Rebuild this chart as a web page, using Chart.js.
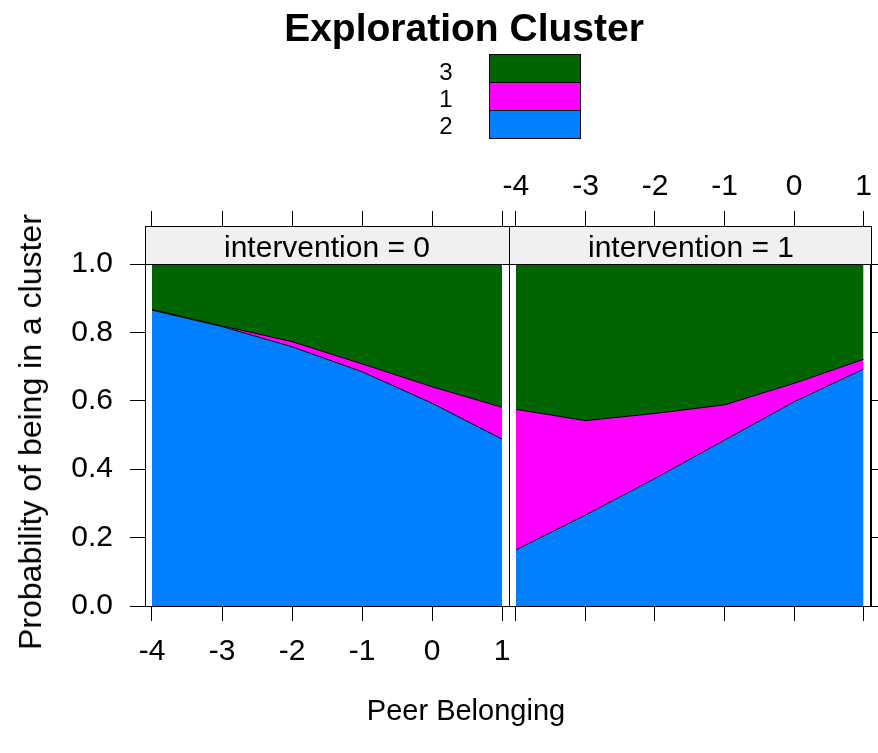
<!DOCTYPE html>
<html>
<head>
<meta charset="utf-8">
<script src="https://cdn.jsdelivr.net/npm/chart.js@4.4.1/dist/chart.umd.min.js"></script>
<style>
  html, body { margin: 0; padding: 0; background: #fff; }
  #wrap { position: relative; width: 878px; height: 753px; overflow: hidden;
          font-family: "Liberation Sans", Arial, sans-serif; color: #000; }
  #wrap canvas { position: absolute; left: 0; top: 0; }
  .t { position: absolute; white-space: nowrap; line-height: 1; transform: translate(-50%, -50%); }
  #legendBox { position: absolute; left: 489px; top: 54px; width: 90px; border: 1px solid #000; }
  #legendBox div { height: 27px; }
  #legendBox div + div { border-top: 1px solid #000; }
</style>
</head>
<body>
<div id="wrap">
  <canvas id="panel0" width="878" height="753"></canvas>
  <canvas id="panel1" width="878" height="753"></canvas>

  <div class="t" id="title" style="left:464px; top:27px; font-size:39px; font-weight:bold;"></div>
  <div class="t legendLabel" style="left:446px; top:72px; font-size:24px;"></div>
  <div class="t legendLabel" style="left:446px; top:99px; font-size:24px;"></div>
  <div class="t legendLabel" style="left:446px; top:126px; font-size:24px;"></div>
  <div id="legendBox"><div></div><div></div><div></div></div>

  <div class="t strip" style="left:327px; top:247px; font-size:30px;"></div>
  <div class="t strip" style="left:691px; top:247px; font-size:30px;"></div>

  <div class="t" id="xTitle" style="left:466px; top:710px; font-size:29px;"></div>
  <div class="t" id="yTitle" style="left:30px; top:432px; font-size:32px; transform: translate(-50%, -50%) rotate(-90deg);"></div>
</div>

<script>
// ---------------- data ----------------
const chartTitle = 'Exploration Cluster';
const xAxisTitle = 'Peer Belonging';
const yAxisTitle = 'Probability of being in a cluster';
const panelTitles = ['intervention = 0', 'intervention = 1'];
const legendLabels = ['3', '1', '2'];          // top to bottom in legend
const stackOrder = ['2', '1', '3'];            // bottom to top in the stack

const peerBelonging = [-4, -3, -2, -1, 0, 1];
const xTickValues = [-4, -3, -2, -1, 0, 1];
const yTickValues = [0, 0.2, 0.4, 0.6, 0.8, 1.0];

// intervention = 0
const int0Cluster2 = [0.865, 0.817, 0.758, 0.685, 0.593, 0.488];
const int0Cluster1 = [0.002, 0.002, 0.015, 0.023, 0.048, 0.093];
const int0Cluster3 = [0.133, 0.181, 0.227, 0.292, 0.359, 0.419];
// intervention = 1
const int1Cluster2 = [0.164, 0.266, 0.373, 0.485, 0.597, 0.693];
const int1Cluster1 = [0.411, 0.276, 0.190, 0.103, 0.054, 0.028];
const int1Cluster3 = [0.425, 0.458, 0.437, 0.412, 0.349, 0.279];

// ---------------- styles ----------------
const clusterColors = { '2': '#0080FF', '1': '#FF00FF', '3': '#006400' };
const FONT = "'Liberation Sans', Arial, sans-serif";
const TICK_FONT = { family: FONT, size: 30 };
const X_MIN = -4.1, X_MAX = 1.1;
const STRIP = 38 / 342;   // strip height expressed in y units above 1.0

// ---------------- text ----------------
document.getElementById('title').textContent = chartTitle;
document.getElementById('xTitle').textContent = xAxisTitle;
document.getElementById('yTitle').textContent = yAxisTitle;
document.querySelectorAll('.strip').forEach((el, i) => el.textContent = panelTitles[i]);
document.querySelectorAll('.legendLabel').forEach((el, i) => el.textContent = legendLabels[i]);
document.querySelectorAll('#legendBox div').forEach((el, i) => el.style.background = clusterColors[legendLabels[i]]);

// ---------------- chart ----------------
const stripPlugin = {
  id: 'stripFrame',
  afterDraw(chart) {
    const { ctx, chartArea: a, scales: { y } } = chart;
    const y1 = Math.round(y.getPixelForValue(1));
    const L = Math.round(a.left), R = Math.round(a.right), T = Math.round(a.top), B = Math.round(a.bottom);
    ctx.save();
    ctx.fillStyle = '#f0f0f0';
    ctx.fillRect(L, T, R - L, y1 - T);
    ctx.strokeStyle = '#000';
    ctx.lineWidth = 1;
    ctx.strokeRect(L + 0.5, T + 0.5, R - L, B - T);
    ctx.beginPath();
    ctx.moveTo(L, y1 + 0.5);
    ctx.lineTo(R + 1, y1 + 0.5);
    ctx.stroke();
    ctx.restore();
  }
};

function setTicks(values) {
  return scale => { scale.ticks = values.map(v => ({ value: v })); };
}

function makePanel(id, series, isLeft) {
  const datasets = stackOrder.map((name, i) => ({
    label: name,
    data: peerBelonging.map((x, k) => ({ x: x, y: series[i][k] })),
    backgroundColor: clusterColors[name],
    borderColor: '#000',
    borderWidth: 1,
    pointRadius: 0,
    tension: 0,
    fill: i === 0 ? 'origin' : '-1'
  }));
  const gridOpts = { drawOnChartArea: false, drawTicks: true, tickLength: 15, color: '#000', lineWidth: 1 };
  return new Chart(document.getElementById(id), {
    type: 'line',
    data: { datasets },
    options: {
      responsive: false,
      animation: false,
      events: [],
      layout: { autoPadding: false,
        padding: { left: isLeft ? 0 : 509, right: isLeft ? 369 : 0, top: 0, bottom: 0 } },
      plugins: { legend: { display: false }, tooltip: { enabled: false }, title: { display: false } },
      scales: {
        x: {
          type: 'linear', position: 'bottom', min: X_MIN, max: X_MAX,
          afterBuildTicks: setTicks(xTickValues),
          afterFit: s => { s.height = 147; },
          grid: gridOpts, border: { color: '#000', width: 1 },
          ticks: { display: isLeft, font: TICK_FONT, color: '#000', padding: 13,
                   maxRotation: 0, autoSkip: false, callback: v => String(v) }
        },
        xTop: {
          type: 'linear', position: 'top', min: X_MIN, max: X_MAX,
          afterBuildTicks: setTicks(xTickValues),
          afterFit: s => { s.height = 226; },
          grid: gridOpts, border: { color: '#000', width: 1 },
          ticks: { display: !isLeft, font: TICK_FONT, color: '#000', padding: 6,
                   maxRotation: 0, autoSkip: false, callback: v => String(v) }
        },
        y: {
          type: 'linear', position: isLeft ? 'left' : 'right', stacked: true,
          min: 0, max: 1 + STRIP,
          afterBuildTicks: setTicks(yTickValues),
          afterFit: s => { s.width = isLeft ? 145 : 5; },
          grid: gridOpts, border: { color: '#000', width: 1 },
          ticks: { display: isLeft, font: TICK_FONT, color: '#000', padding: 17,
                   callback: v => Number(v).toFixed(1) }
        }
      }
    },
    plugins: [stripPlugin]
  });
}

makePanel('panel0', [int0Cluster2, int0Cluster1, int0Cluster3], true);
makePanel('panel1', [int1Cluster2, int1Cluster1, int1Cluster3], false);
</script>
</body>
</html>
